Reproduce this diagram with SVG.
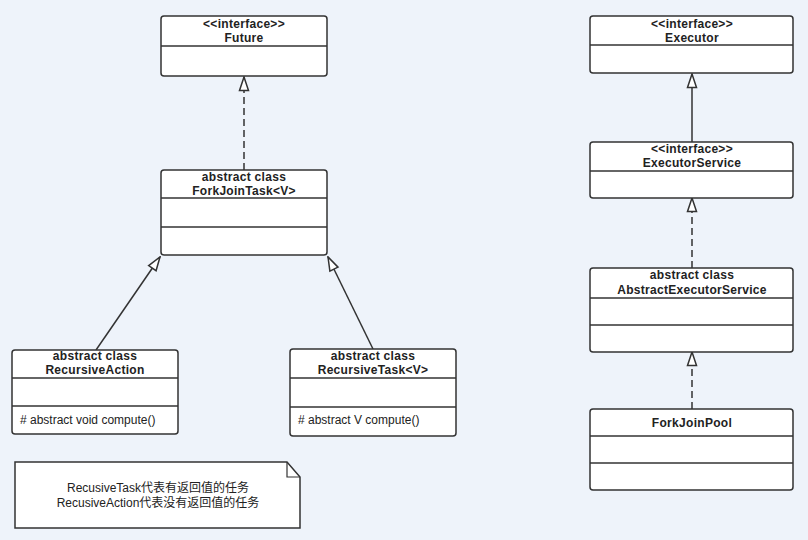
<svg xmlns="http://www.w3.org/2000/svg" width="808" height="540" viewBox="0 0 808 540">
<defs>
<style>
.box{fill:#fff;stroke:#333;stroke-width:1.5}
.div{stroke:#333;stroke-width:1.5}
.t{font-family:"Liberation Sans","Noto Sans CJK SC",sans-serif;font-size:12px;fill:#222;text-anchor:middle}
.b{font-weight:bold;letter-spacing:0.3px}
.m{text-anchor:start}
.ln{fill:none;stroke:#333;stroke-width:1.5}
.dash{stroke-dasharray:7,4}
</style>
<marker id="tri" markerUnits="userSpaceOnUse" markerWidth="16" markerHeight="12" viewBox="0 0 16 12" refX="15" refY="6" orient="auto">
<path d="M1.5,1.5 L15,6 L1.5,10.5 z" fill="#fff" stroke="#333" stroke-width="1.5"/>
</marker>
</defs>
<rect width="808" height="540" fill="#EEF3FA"/>
<g id="connectors">
<line class="ln dash" x1="244" y1="170" x2="244" y2="77" marker-end="url(#tri)"/>
<line class="ln" x1="96" y1="350" x2="160" y2="257" marker-end="url(#tri)"/>
<line class="ln" x1="373" y1="349" x2="328" y2="257" marker-end="url(#tri)"/>
<line class="ln" x1="692" y1="142" x2="692" y2="74" marker-end="url(#tri)"/>
<line class="ln dash" x1="692" y1="268" x2="692" y2="198" marker-end="url(#tri)"/>
<line class="ln dash" x1="692" y1="409" x2="692" y2="352" marker-end="url(#tri)"/>
</g>
<g id="Future">
<rect class="box" x="161" y="16" width="166" height="60" rx="3"/>
<line class="div" x1="161" y1="46" x2="327" y2="46"/>
<text class="t b" x="244" y="28">&lt;&lt;interface&gt;&gt;</text>
<text class="t b" x="244" y="42">Future</text>
</g>
<g id="ForkJoinTask">
<rect class="box" x="161" y="170" width="166" height="85" rx="3"/>
<line class="div" x1="161" y1="198" x2="327" y2="198"/>
<line class="div" x1="161" y1="227" x2="327" y2="227"/>
<text class="t b" x="244" y="181">abstract class</text>
<text class="t b" x="244" y="195">ForkJoinTask&lt;V&gt;</text>
</g>
<g id="RecursiveAction">
<rect class="box" x="12" y="350" width="166" height="84" rx="3"/>
<line class="div" x1="12" y1="378" x2="178" y2="378"/>
<line class="div" x1="12" y1="406" x2="178" y2="406"/>
<text class="t b" x="95" y="360">abstract class</text>
<text class="t b" x="95" y="374">RecursiveAction</text>
<text class="t m" x="20" y="424"># abstract void compute()</text>
</g>
<g id="RecursiveTask">
<rect class="box" x="290" y="349" width="166" height="87" rx="3"/>
<line class="div" x1="290" y1="378" x2="456" y2="378"/>
<line class="div" x1="290" y1="407" x2="456" y2="407"/>
<text class="t b" x="373" y="360">abstract class</text>
<text class="t b" x="373" y="374">RecursiveTask&lt;V&gt;</text>
<text class="t m" x="298" y="424"># abstract V compute()</text>
</g>
<g id="Note">
<path d="M15,462 H287 L300,477 V528 H15 Z" fill="#fff" stroke="#333" stroke-width="1.5"/>
<path d="M287,462 V477 H300" fill="none" stroke="#333" stroke-width="1.2"/>
<text class="t" x="158" y="492">RecusiveTask代表有返回值的任务</text>
<text class="t" x="158" y="507">RecusiveAction代表没有返回值的任务</text>
</g>
<g id="Executor">
<rect class="box" x="590" y="16" width="203" height="57" rx="3"/>
<line class="div" x1="590" y1="45" x2="793" y2="45"/>
<text class="t b" x="692" y="28">&lt;&lt;interface&gt;&gt;</text>
<text class="t b" x="692" y="42">Executor</text>
</g>
<g id="ExecutorService">
<rect class="box" x="590" y="142" width="203" height="56" rx="3"/>
<line class="div" x1="590" y1="171" x2="793" y2="171"/>
<text class="t b" x="692" y="153">&lt;&lt;interface&gt;&gt;</text>
<text class="t b" x="692" y="167">ExecutorService</text>
</g>
<g id="AbstractExecutorService">
<rect class="box" x="590" y="268" width="203" height="84" rx="3"/>
<line class="div" x1="590" y1="298" x2="793" y2="298"/>
<line class="div" x1="590" y1="325" x2="793" y2="325"/>
<text class="t b" x="692" y="279">abstract class</text>
<text class="t b" x="692" y="294">AbstractExecutorService</text>
</g>
<g id="ForkJoinPool">
<rect class="box" x="590" y="409" width="203" height="81" rx="3"/>
<line class="div" x1="590" y1="436" x2="793" y2="436"/>
<line class="div" x1="590" y1="463" x2="793" y2="463"/>
<text class="t b" x="692" y="427">ForkJoinPool</text>
</g>
</svg>
